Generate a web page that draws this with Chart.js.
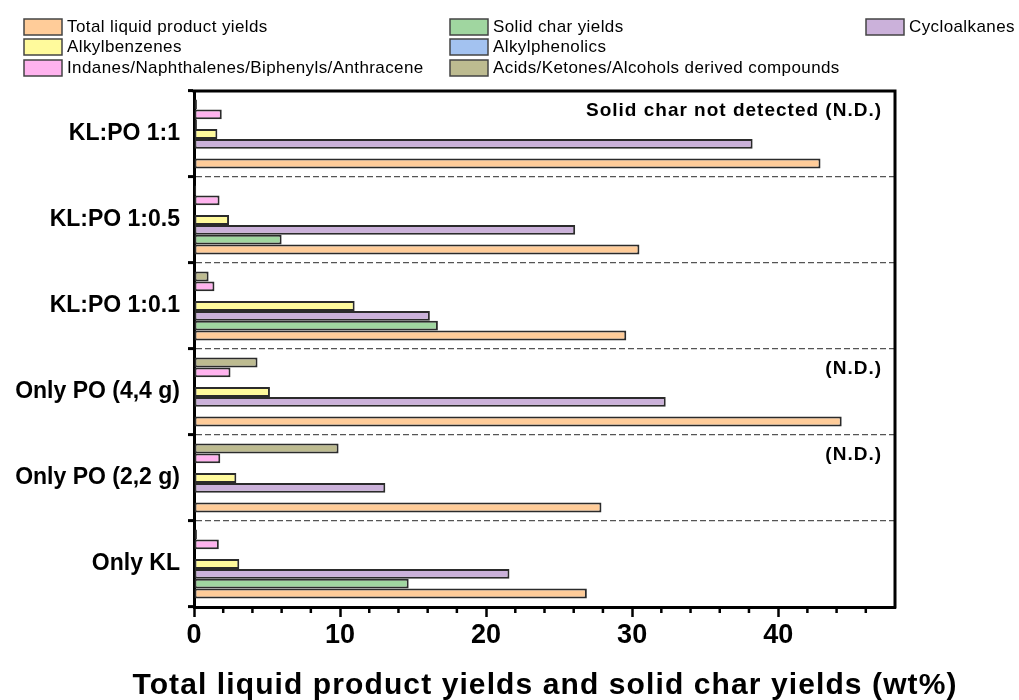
<!DOCTYPE html>
<html>
<head>
<meta charset="utf-8">
<script src="https://cdn.jsdelivr.net/npm/chart.js@4.4.1/dist/chart.umd.min.js"></script>
<style>
  html, body { margin: 0; padding: 0; background: #fff; }
  canvas { display: block; }
</style>
</head>
<body>
<canvas id="yields" width="1019" height="700"></canvas>
<script>
// Yield data per run (wt%), groups listed top to bottom as in the figure
const categories = ['KL:PO 1:1', 'KL:PO 1:0.5', 'KL:PO 1:0.1', 'Only PO (4,4 g)', 'Only PO (2,2 g)', 'Only KL'];

const totalLiquid    = [42.9, 30.5, 29.6, 44.35, 27.9, 26.9];
const solidChar      = [null, 6.0, 16.7, null, null, 14.7];
const cycloalkanes   = [38.25, 26.1, 16.15, 32.3, 13.1, 21.6];
const alkylbenzenes  = [1.6, 2.4, 11.0, 5.2, 2.9, 3.1];
const alkylphenolics = [0.2, null, null, null, null, null];
const indanes        = [1.9, 1.75, 1.4, 2.5, 1.8, 1.7];
const acids          = [0.2, 0.15, 1.0, 4.35, 9.9, 0.2];

// Notes written inside a group (solid char not detected)
const groupNotes = ['Solid char not detected (N.D.)', null, null, '(N.D.)', '(N.D.)', null];

const xTicks = [0, 10, 20, 30, 40];
const xTitle = 'Total liquid product yields and solid char yields (wt%)';

// Series in legend order
const seriesLabels = [
    'Total liquid product yields',
    'Alkylbenzenes',
    'Indanes/Naphthalenes/Biphenyls/Anthracene',
    'Solid char yields',
    'Alkylphenolics',
    'Acids/Ketones/Alcohols derived compounds',
    'Cycloalkanes'
];
const seriesData = [totalLiquid, alkylbenzenes, indanes, solidChar, alkylphenolics, acids, cycloalkanes];
const seriesColors = ['#FFCC99', '#FFFA9C', '#FFB3EE', '#A0D6A0', '#A3C2F0', '#BDBB90', '#CBB1DA'];

// Order of bars inside a group, top to bottom (index into the series above)
const barOrder = [5, 2, 4, 1, 6, 3, 0];

const FONT = "'Liberation Sans', Arial, Helvetica, sans-serif";
Chart.defaults.font.family = FONT;
Chart.defaults.color = '#000';

const datasets = barOrder.map(i => ({
    label: seriesLabels[i],
    data: seriesData[i],
    backgroundColor: seriesColors[i],
    borderColor: '#2b2b2b',
    borderWidth: 2,
    borderSkipped: false
}));

// legend grid: column-major, 3 rows
const legendCols = [24, 450, 866];
const legendRows = [19, 39, 60];

const extras = {
    id: 'extras',
    afterDraw(chart) {
        const { ctx, chartArea: a, scales: { x, y } } = chart;

        // minor ticks on x axis
        ctx.save();
        ctx.strokeStyle = '#000';
        ctx.lineWidth = 2.5;
        for (let v = 2; v < x.max; v += 2) {
            if (v % 10 === 0) continue;
            const px = x.getPixelForValue(v);
            ctx.beginPath();
            ctx.moveTo(px, a.bottom);
            ctx.lineTo(px, a.bottom + 6);
            ctx.stroke();
        }

        // top and right frame
        ctx.lineWidth = 3;
        ctx.beginPath();
        ctx.moveTo(a.left - 1.5, a.top);
        ctx.lineTo(a.right, a.top);
        ctx.lineTo(a.right, a.bottom + 1.5);
        ctx.stroke();
        ctx.restore();

        // legend
        ctx.save();
        ctx.font = '17px ' + FONT;
        ctx.letterSpacing = '0.4px';
        ctx.textBaseline = 'middle';
        ctx.textAlign = 'left';
        seriesLabels.forEach((label, i) => {
            const bx = legendCols[Math.floor(i / 3)];
            const by = legendRows[i % 3];
            ctx.fillStyle = seriesColors[i];
            ctx.fillRect(bx, by, 38, 16);
            ctx.strokeStyle = '#444';
            ctx.lineWidth = 1.5;
            ctx.strokeRect(bx, by, 38, 16);
            ctx.fillStyle = '#000';
            ctx.fillText(label, bx + 43, by + 8.5);
        });
        ctx.restore();

        // group notes
        ctx.save();
        ctx.font = 'bold 19px ' + FONT;
        ctx.letterSpacing = '1px';
        ctx.textAlign = 'right';
        ctx.textBaseline = 'alphabetic';
        ctx.fillStyle = '#000';
        const groupH = (a.bottom - a.top) / categories.length;
        groupNotes.forEach((note, i) => {
            if (!note) return;
            const top = y.getPixelForValue(i) - groupH / 2;
            ctx.fillText(note, a.right - 13, top + 25);
        });
        ctx.restore();

        // x axis title
        ctx.save();
        ctx.font = 'bold 30px ' + FONT;
        ctx.letterSpacing = '1.1px';
        ctx.textAlign = 'center';
        ctx.textBaseline = 'alphabetic';
        ctx.fillStyle = '#000';
        ctx.fillText(xTitle, 545, 694);
        ctx.restore();
    }
};

new Chart(document.getElementById('yields'), {
    type: 'bar',
    data: { labels: categories, datasets },
    options: {
        indexAxis: 'y',
        responsive: false,
        animation: false,
        devicePixelRatio: 1,
        layout: { padding: { top: 91, right: 124, left: 0, bottom: 0 } },
        datasets: { bar: { categoryPercentage: 0.8, barPercentage: 1.0 } },
        plugins: {
            legend: { display: false },
            tooltip: { enabled: false }
        },
        scales: {
            x: {
                min: 0,
                max: 48,
                afterBuildTicks: s => { s.ticks = xTicks.map(v => ({ value: v })); },
                ticks: {
                    color: '#000',
                    padding: 2,
                    font: { size: 27, weight: 'bold' }
                },
                grid: {
                    drawOnChartArea: false,
                    drawTicks: true,
                    tickLength: 10,
                    tickWidth: 2.5,
                    tickColor: '#000'
                },
                border: { color: '#000', width: 3 },
                afterFit: s => { s.height = 93; }
            },
            y: {
                ticks: {
                    color: '#000',
                    padding: 8,
                    font: { size: 23, weight: 'bold' }
                },
                grid: {
                    color: '#555',
                    lineWidth: 1.2,
                    tickLength: 6,
                    tickWidth: 3,
                    tickColor: '#000',
                    tickBorderDash: []
                },
                border: { color: '#000', width: 3, dash: [6, 3] },
                afterFit: s => { s.width = 194; }
            }
        }
    },
    plugins: [extras]
});
</script>
</body>
</html>
